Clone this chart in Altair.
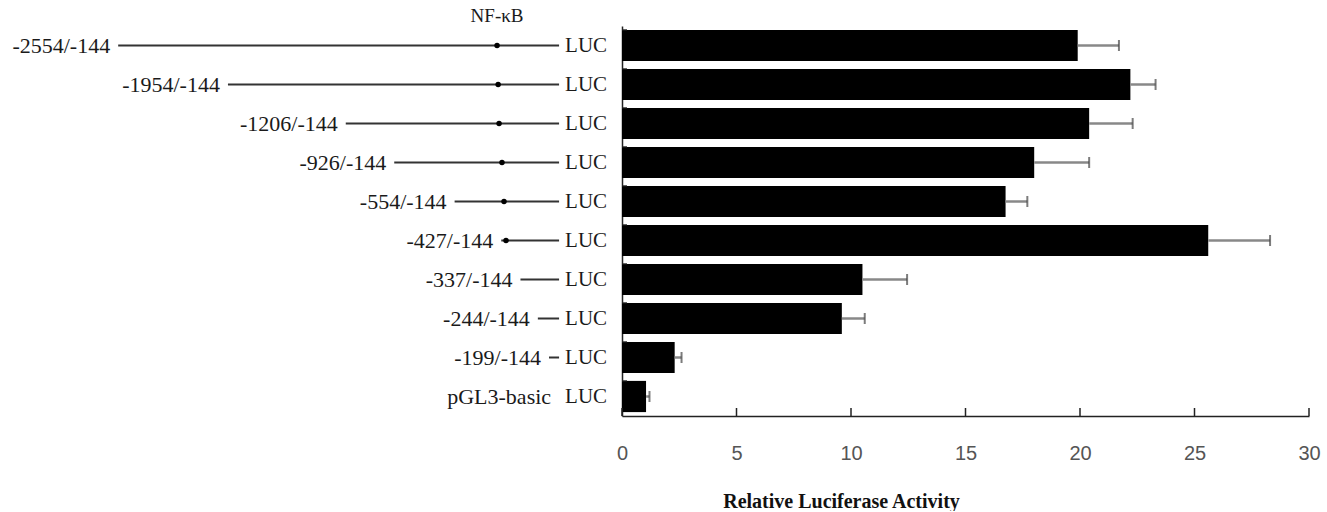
import altair as alt
import pandas as pd

# ---- data ----
constructs = ["-2554/-144", "-1954/-144", "-1206/-144", "-926/-144", "-554/-144",
              "-427/-144", "-337/-144", "-244/-144", "-199/-144", "pGL3-basic"]
activity = [19.9, 22.2, 20.4, 18.0, 16.75, 25.6, 10.5, 9.6, 2.3, 1.05]
error = [1.8, 1.1, 1.9, 2.4, 0.95, 2.7, 1.95, 1.0, 0.3, 0.15]
# schematic (as drawn) start of each promoter fragment and NF-kB site position
line_start = [-2554, -1954, -1310, -1045, -715, -460, -355, -260, -199, -144]
nfkb_site = [-483, -477, -472, -456, -445, -434, None, None, None, None]
line_end = -144
x_ticks = [0, 5, 10, 15, 20, 25, 30]

df = pd.DataFrame({
    "construct": constructs,
    "activity": activity,
    "error": error,
    "start": line_start,
    "nfkb": nfkb_site,
})
df["upper"] = df["activity"] + df["error"]
df["end"] = line_end
ticks_df = pd.DataFrame({"v": x_ticks})
nf_df = pd.DataFrame({"pos": [nfkb_site[0]], "label": ["NF-κB"]})

SERIF = "Liberation Serif"
HEIGHT = 390

y_enc = alt.Y("construct:N", sort=constructs,
              scale=alt.Scale(paddingInner=0.2, paddingOuter=0.1),
              axis=alt.Axis(labels=False, ticks=False, title=None,
                            domainColor="#222", domainWidth=1.5))

xs = alt.Scale(domain=[0, 30], nice=False, zero=True)
diag_scale = alt.Scale(domain=[-3200, 200], range=[-622, 0], nice=False, zero=False)

base = alt.Chart(df)

bars = base.mark_bar(color="black").encode(
    x=alt.X("activity:Q", scale=xs,
            axis=alt.Axis(values=x_ticks, ticks=False, tickSize=0, grid=False,
                          labelFont="Liberation Sans", labelFontSize=20,
                          labelColor="#555", labelPadding=27, labelFlush=False,
                          labelOverlap=False,
                          domainColor="#222", domainWidth=1.5,
                          title="Relative Luciferase Activity",
                          titleFont=SERIF, titleFontSize=20, titleFontWeight="bold",
                          titleColor="#111", titleX=219, titleY=91,
                          titleAlign="center", titleBaseline="alphabetic")),
    y=y_enc,
)

err = base.mark_rule(color="#888", strokeWidth=2.5).encode(
    x=alt.X("activity:Q", scale=xs, axis=None),
    x2="upper:Q",
    y=y_enc,
)

caps = base.mark_tick(color="#444", size=11, thickness=2).encode(
    x=alt.X("upper:Q", scale=xs, axis=None),
    y=y_enc,
)

xtick_marks = alt.Chart(ticks_df).mark_rule(color="#222", strokeWidth=1.5).encode(
    x=alt.X("v:Q", scale=xs, axis=None),
    y=alt.value(HEIGHT),
    y2=alt.value(HEIGHT - 8),
)

ytick_marks = base.mark_rule(color="#222", strokeWidth=1.2).encode(
    x=alt.value(0),
    x2=alt.value(5),
    y=alt.Y("construct:N", sort=constructs, bandPosition=0,
            scale=alt.Scale(paddingInner=0.2, paddingOuter=0.1),
            axis=alt.Axis(labels=False, ticks=False, title=None,
                          domainColor="#222", domainWidth=1.5)),
)

lines = base.transform_filter("datum.start < datum.end").mark_rule(
    color="#333", strokeWidth=2).encode(
    x=alt.X("start:Q", scale=diag_scale, axis=None),
    x2="end:Q",
    y=y_enc,
)

dots = base.transform_filter("isValid(datum.nfkb)").mark_point(
    filled=True, color="black", size=30, opacity=1).encode(
    x=alt.X("nfkb:Q", scale=diag_scale, axis=None),
    y=y_enc,
)

labels = base.mark_text(align="right", baseline="middle", dx=-8,
                        font=SERIF, fontSize=22, color="#1a1a1a").encode(
    x=alt.X("start:Q", scale=diag_scale, axis=None),
    y=y_enc,
    text="construct:N",
)

luc = base.mark_text(align="left", baseline="middle", dx=6,
                     font=SERIF, fontSize=21, color="#1a1a1a").encode(
    x=alt.X("end:Q", scale=diag_scale, axis=None),
    y=y_enc,
    text=alt.value("LUC"),
)

nf = alt.Chart(nf_df).mark_text(align="center", baseline="middle",
                                font=SERIF, fontSize=19, color="#1a1a1a").encode(
    x=alt.X("pos:Q", scale=diag_scale, axis=None),
    y=alt.value(-10),
    text="label:N",
)

chart = alt.layer(
    bars, err, caps, xtick_marks, ytick_marks, lines, dots, labels, luc, nf
).resolve_scale(x="independent").properties(
    width=687, height=HEIGHT,
    padding={"left": 12, "top": 7, "right": 5, "bottom": 0},
    background="white",
).configure_view(stroke=None)

chart.save("out.html", embed_options={"renderer": "svg", "actions": False})
